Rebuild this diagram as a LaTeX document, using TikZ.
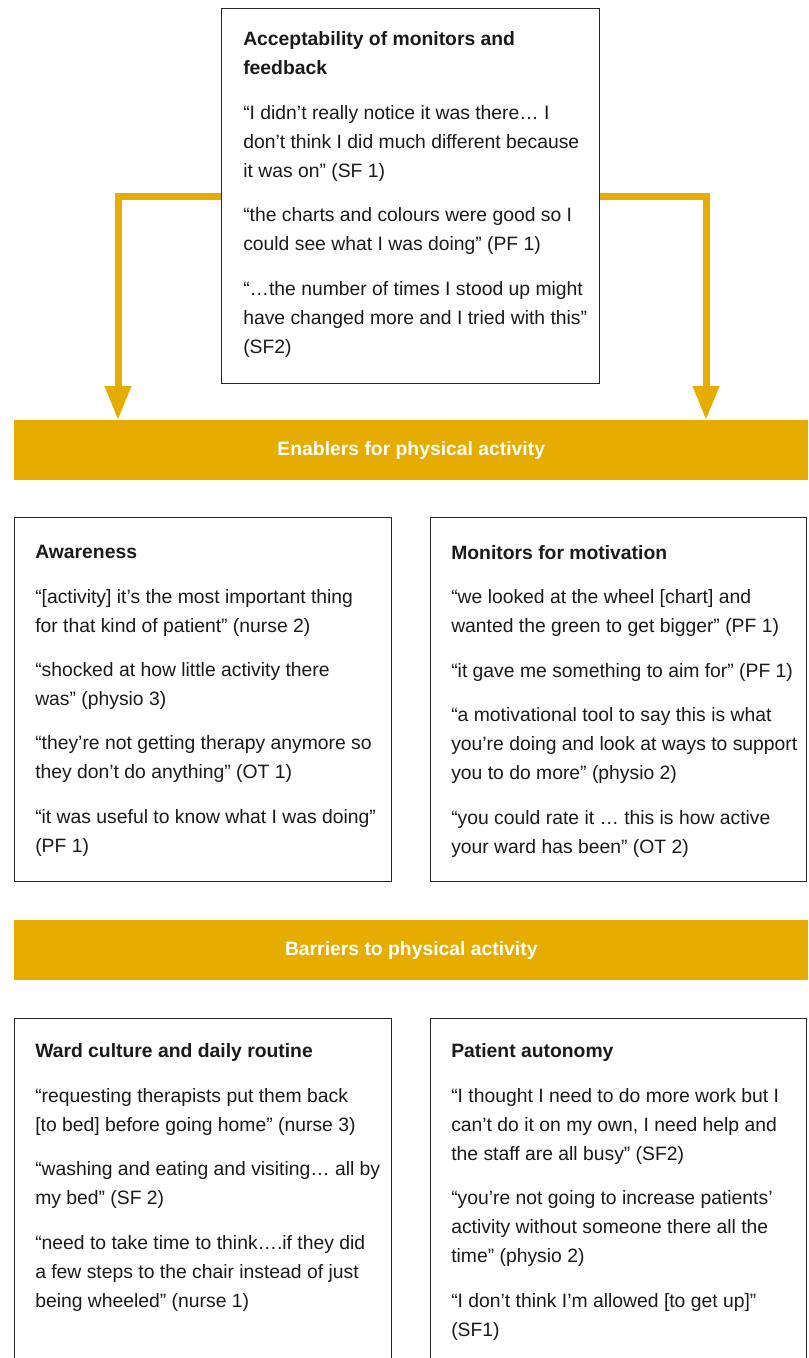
\documentclass[tikz,border=0pt]{standalone}
\usepackage{fontspec}
\setmainfont{Liberation Sans}
\usepackage{tikz}
\usetikzlibrary{arrows.meta,positioning}
\definecolor{Gold}{HTML}{E6AC00}
\definecolor{Ink}{HTML}{1A1A1A}
\definecolor{Edge}{HTML}{262626}
\newcommand\quotefont{\fontsize{14.5pt}{21.75pt}\selectfont}
\newcommand\qgap{11.6pt}
\tikzset{
  quotebox/.style={draw=Edge,line width=1.1pt,fill=white,inner sep=0pt,anchor=north west},
  quotetext/.style={font=\quotefont,text=Ink,align=left,inner sep=0pt},
  banner/.style={fill=Gold,text=white,font=\quotefont\bfseries,inner sep=0pt,
    minimum width=595.5pt,minimum height=45pt,anchor=north west},
  flow/.style={Gold,line width=5.25pt,-{Triangle[length=25.5pt,width=18.75pt]}}
}

\begin{document}
\begin{tikzpicture}[x=0.75pt,y=-0.75pt]
  \clip (0,0) rectangle (808,1358);
  \fill[white] (0,0) rectangle (808,1358);
  \node[quotebox,minimum width=283.5pt,minimum height=281.25pt] (accept) at (221,8) {};
  \node[banner] (enablers) at (14,420) {Enablers for physical activity};
  \node[banner] (barriers) at (14,920) {Barriers to physical activity};
  \node[quotebox,minimum width=282.75pt,minimum height=273pt] (aware) at (14,517) {};
  \node[quotebox,minimum width=282pt,minimum height=273pt] (motiv) at (430,517) {};
  \node[quotebox,minimum width=282.75pt,minimum height=300pt] (ward) at (14,1018) {};
  \node[quotebox,minimum width=282pt,minimum height=300pt] (auton) at (430,1018) {};
  \coordinate (ltip) at (118,420);
  \coordinate (rtip) at (706,420);
  \draw[flow] (accept.west) -| (ltip);
  \draw[flow] (accept.east) -| (rtip);

  \node[quotetext,below right=17.5pt and 16.5pt of accept.north west] (accepttxt) {%
    \textbf{Acceptability of monitors and}\\
    \textbf{feedback}\\[\qgap]
    “I didn’t really notice it was there… I\\
    don’t think I did much different because\\
    it was on” (SF 1)\\[\qgap]
    “the charts and colours were good so I\\
    could see what I was doing” (PF 1)\\[\qgap]
    “…the number of times I stood up might\\
    have changed more and I tried with this”\\
    (SF2)};
  \node[quotetext,below right=21pt and 15.75pt of aware.north west] (awaretxt) {%
    \textbf{Awareness}\\[\qgap]
    “{[}activity{]} it’s the most important thing\\
    for that kind of patient” (nurse 2)\\[\qgap]
    “shocked at how little activity there\\
    was” (physio 3)\\[\qgap]
    “they’re not getting therapy anymore so\\
    they don’t do anything” (OT 1)\\[\qgap]
    “it was useful to know what I was doing”\\
    (PF 1)};
  \node[quotetext,below right=21pt and 15.75pt of motiv.north west] (motivtxt) {%
    \textbf{Monitors for motivation}\\[\qgap]
    “we looked at the wheel {[}chart{]} and\\
    wanted the green to get bigger” (PF 1)\\[\qgap]
    “it gave me something to aim for” (PF 1)\\[\qgap]
    “a motivational tool to say this is what\\
    you’re doing and look at ways to support\\
    you to do more” (physio 2)\\[\qgap]
    “you could rate it … this is how active\\
    your ward has been” (OT 2)};
  \node[quotetext,below right=19pt and 15.75pt of ward.north west] (wardtxt) {%
    \textbf{Ward culture and daily routine}\\[\qgap]
    “requesting therapists put them back\\
    {[}to bed{]} before going home” (nurse 3)\\[\qgap]
    “washing and eating and visiting… all by\\
    my bed” (SF 2)\\[\qgap]
    “need to take time to think….if they did\\
    a few steps to the chair instead of just\\
    being wheeled” (nurse 1)};
  \node[quotetext,below right=19pt and 15.75pt of auton.north west] (autontxt) {%
    \textbf{Patient autonomy}\\[\qgap]
    “I thought I need to do more work but I\\
    can’t do it on my own, I need help and\\
    the staff are all busy” (SF2)\\[\qgap]
    “you’re not going to increase patients’\\
    activity without someone there all the\\
    time” (physio 2)\\[\qgap]
    “I don’t think I’m allowed {[}to get up{]}”\\
    (SF1)};
\end{tikzpicture}
\end{document}
